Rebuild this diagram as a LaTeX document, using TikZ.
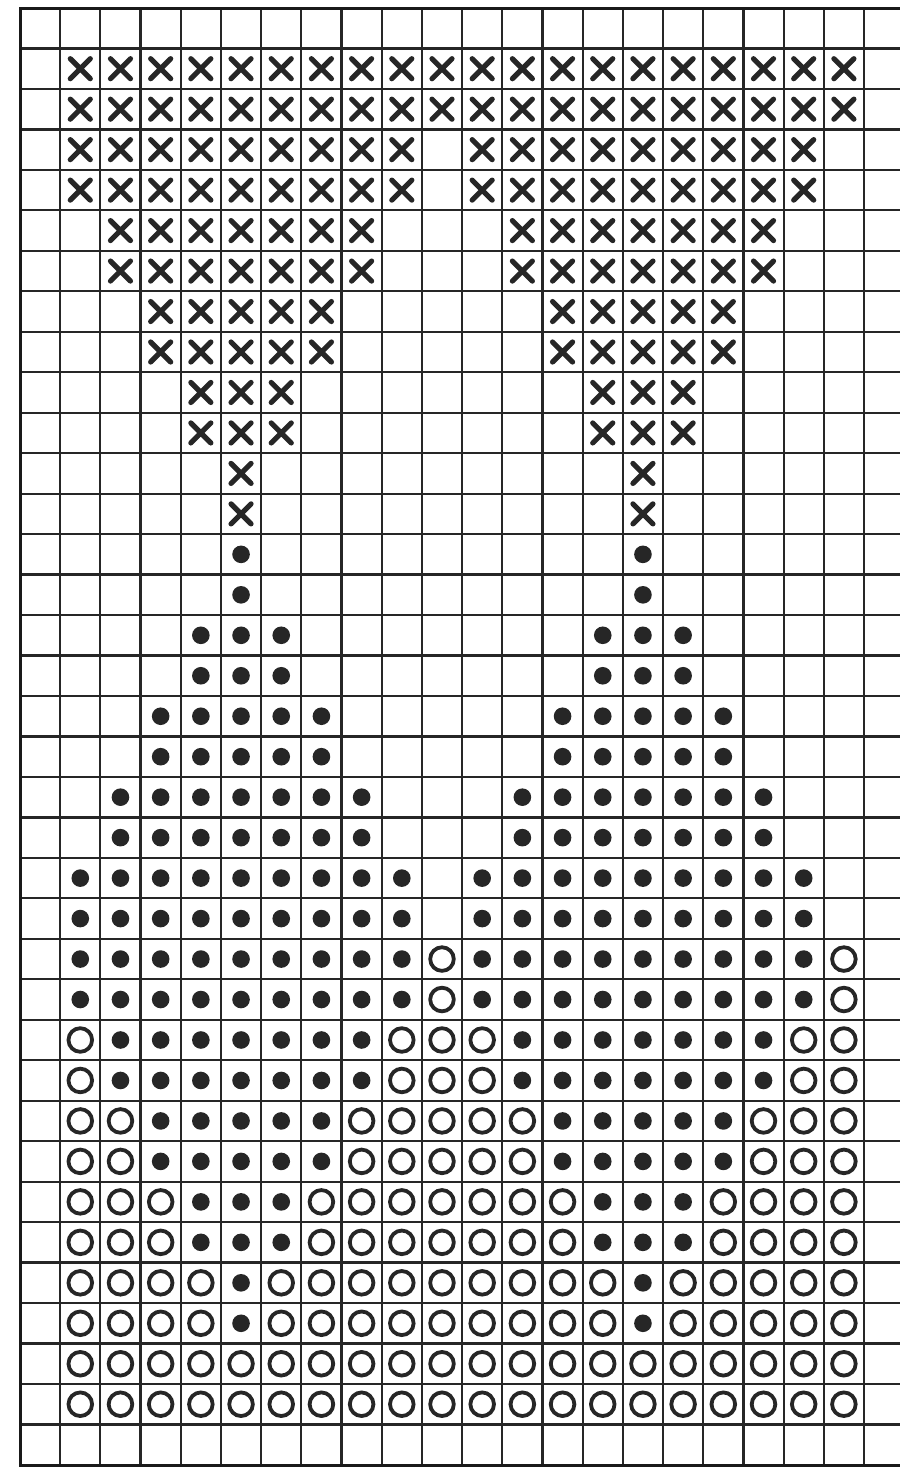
\documentclass[tikz,border=0pt]{standalone}
\begin{document}
\begin{tikzpicture}[x=0.5pt,y=-0.5pt,
  gridline/.style={line width=1.1pt,draw=black!85},
  border/.style={line width=1.5pt,draw=black!90},
  xmark/.style={line width=2.6pt,line cap=round,draw=black!85},
  dotmark/.style={fill=black!85},
  ringmark/.style={line width=1.9pt,draw=black!85}]
\useasboundingbox[fill=white] (0,0) rectangle (900,1474);
\def\cw{40.19}
\def\rh{40.47}
% grid
\foreach \i in {1,...,21} \draw[gridline] ({20+\i*\cw},8) -- ({20+\i*\cw},1465);
\foreach \j in {1,...,35} \draw[gridline] (20,{8+\j*\rh}) -- (900,{8+\j*\rh});
\draw[border] (900,8) -- (20,8) -- (20,1465) -- (900,1465);
% symbols
\def\KsymX#1#2{\draw[xmark] (#1-10,#2-10) -- (#1+10,#2+10) (#1-10,#2+10) -- (#1+10,#2-10);}
\def\KsymD#1#2{\fill[dotmark] (#1,#2) circle[radius=4.4pt];}
\def\KsymO#1#2{\draw[ringmark] (#1,#2) circle[radius=5.9pt];}
\def\KsymN#1#2{}
\foreach \row [count=\k] in {
 {X,X,X,X,X,X,X,X,X,X,X,X,X,X,X,X,X,X,X,X},
 {X,X,X,X,X,X,X,X,X,N,X,X,X,X,X,X,X,X,X,N},
 {N,X,X,X,X,X,X,X,N,N,N,X,X,X,X,X,X,X,N,N},
 {N,N,X,X,X,X,X,N,N,N,N,N,X,X,X,X,X,N,N,N},
 {N,N,N,X,X,X,N,N,N,N,N,N,N,X,X,X,N,N,N,N},
 {N,N,N,N,X,N,N,N,N,N,N,N,N,N,X,N,N,N,N,N},
 {N,N,N,N,D,N,N,N,N,N,N,N,N,N,D,N,N,N,N,N},
 {N,N,N,D,D,D,N,N,N,N,N,N,N,D,D,D,N,N,N,N},
 {N,N,D,D,D,D,D,N,N,N,N,N,D,D,D,D,D,N,N,N},
 {N,D,D,D,D,D,D,D,N,N,N,D,D,D,D,D,D,D,N,N},
 {D,D,D,D,D,D,D,D,D,N,D,D,D,D,D,D,D,D,D,N},
 {D,D,D,D,D,D,D,D,D,O,D,D,D,D,D,D,D,D,D,O},
 {O,D,D,D,D,D,D,D,O,O,O,D,D,D,D,D,D,D,O,O},
 {O,O,D,D,D,D,D,O,O,O,O,O,D,D,D,D,D,O,O,O},
 {O,O,O,D,D,D,O,O,O,O,O,O,O,D,D,D,O,O,O,O},
 {O,O,O,O,D,O,O,O,O,O,O,O,O,O,D,O,O,O,O,O},
 {O,O,O,O,O,O,O,O,O,O,O,O,O,O,O,O,O,O,O,O}} {
  \foreach \s [count=\c] in \row {
    \pgfmathsetmacro\cx{20+(\c+0.5)*\cw}
    \pgfmathsetmacro\cya{8+(2*\k-1+0.5)*\rh}
    \pgfmathsetmacro\cyb{8+(2*\k+0.5)*\rh}
    \csname Ksym\s\endcsname{\cx}{\cya}
    \csname Ksym\s\endcsname{\cx}{\cyb}
  }
}
\end{tikzpicture}
\end{document}
